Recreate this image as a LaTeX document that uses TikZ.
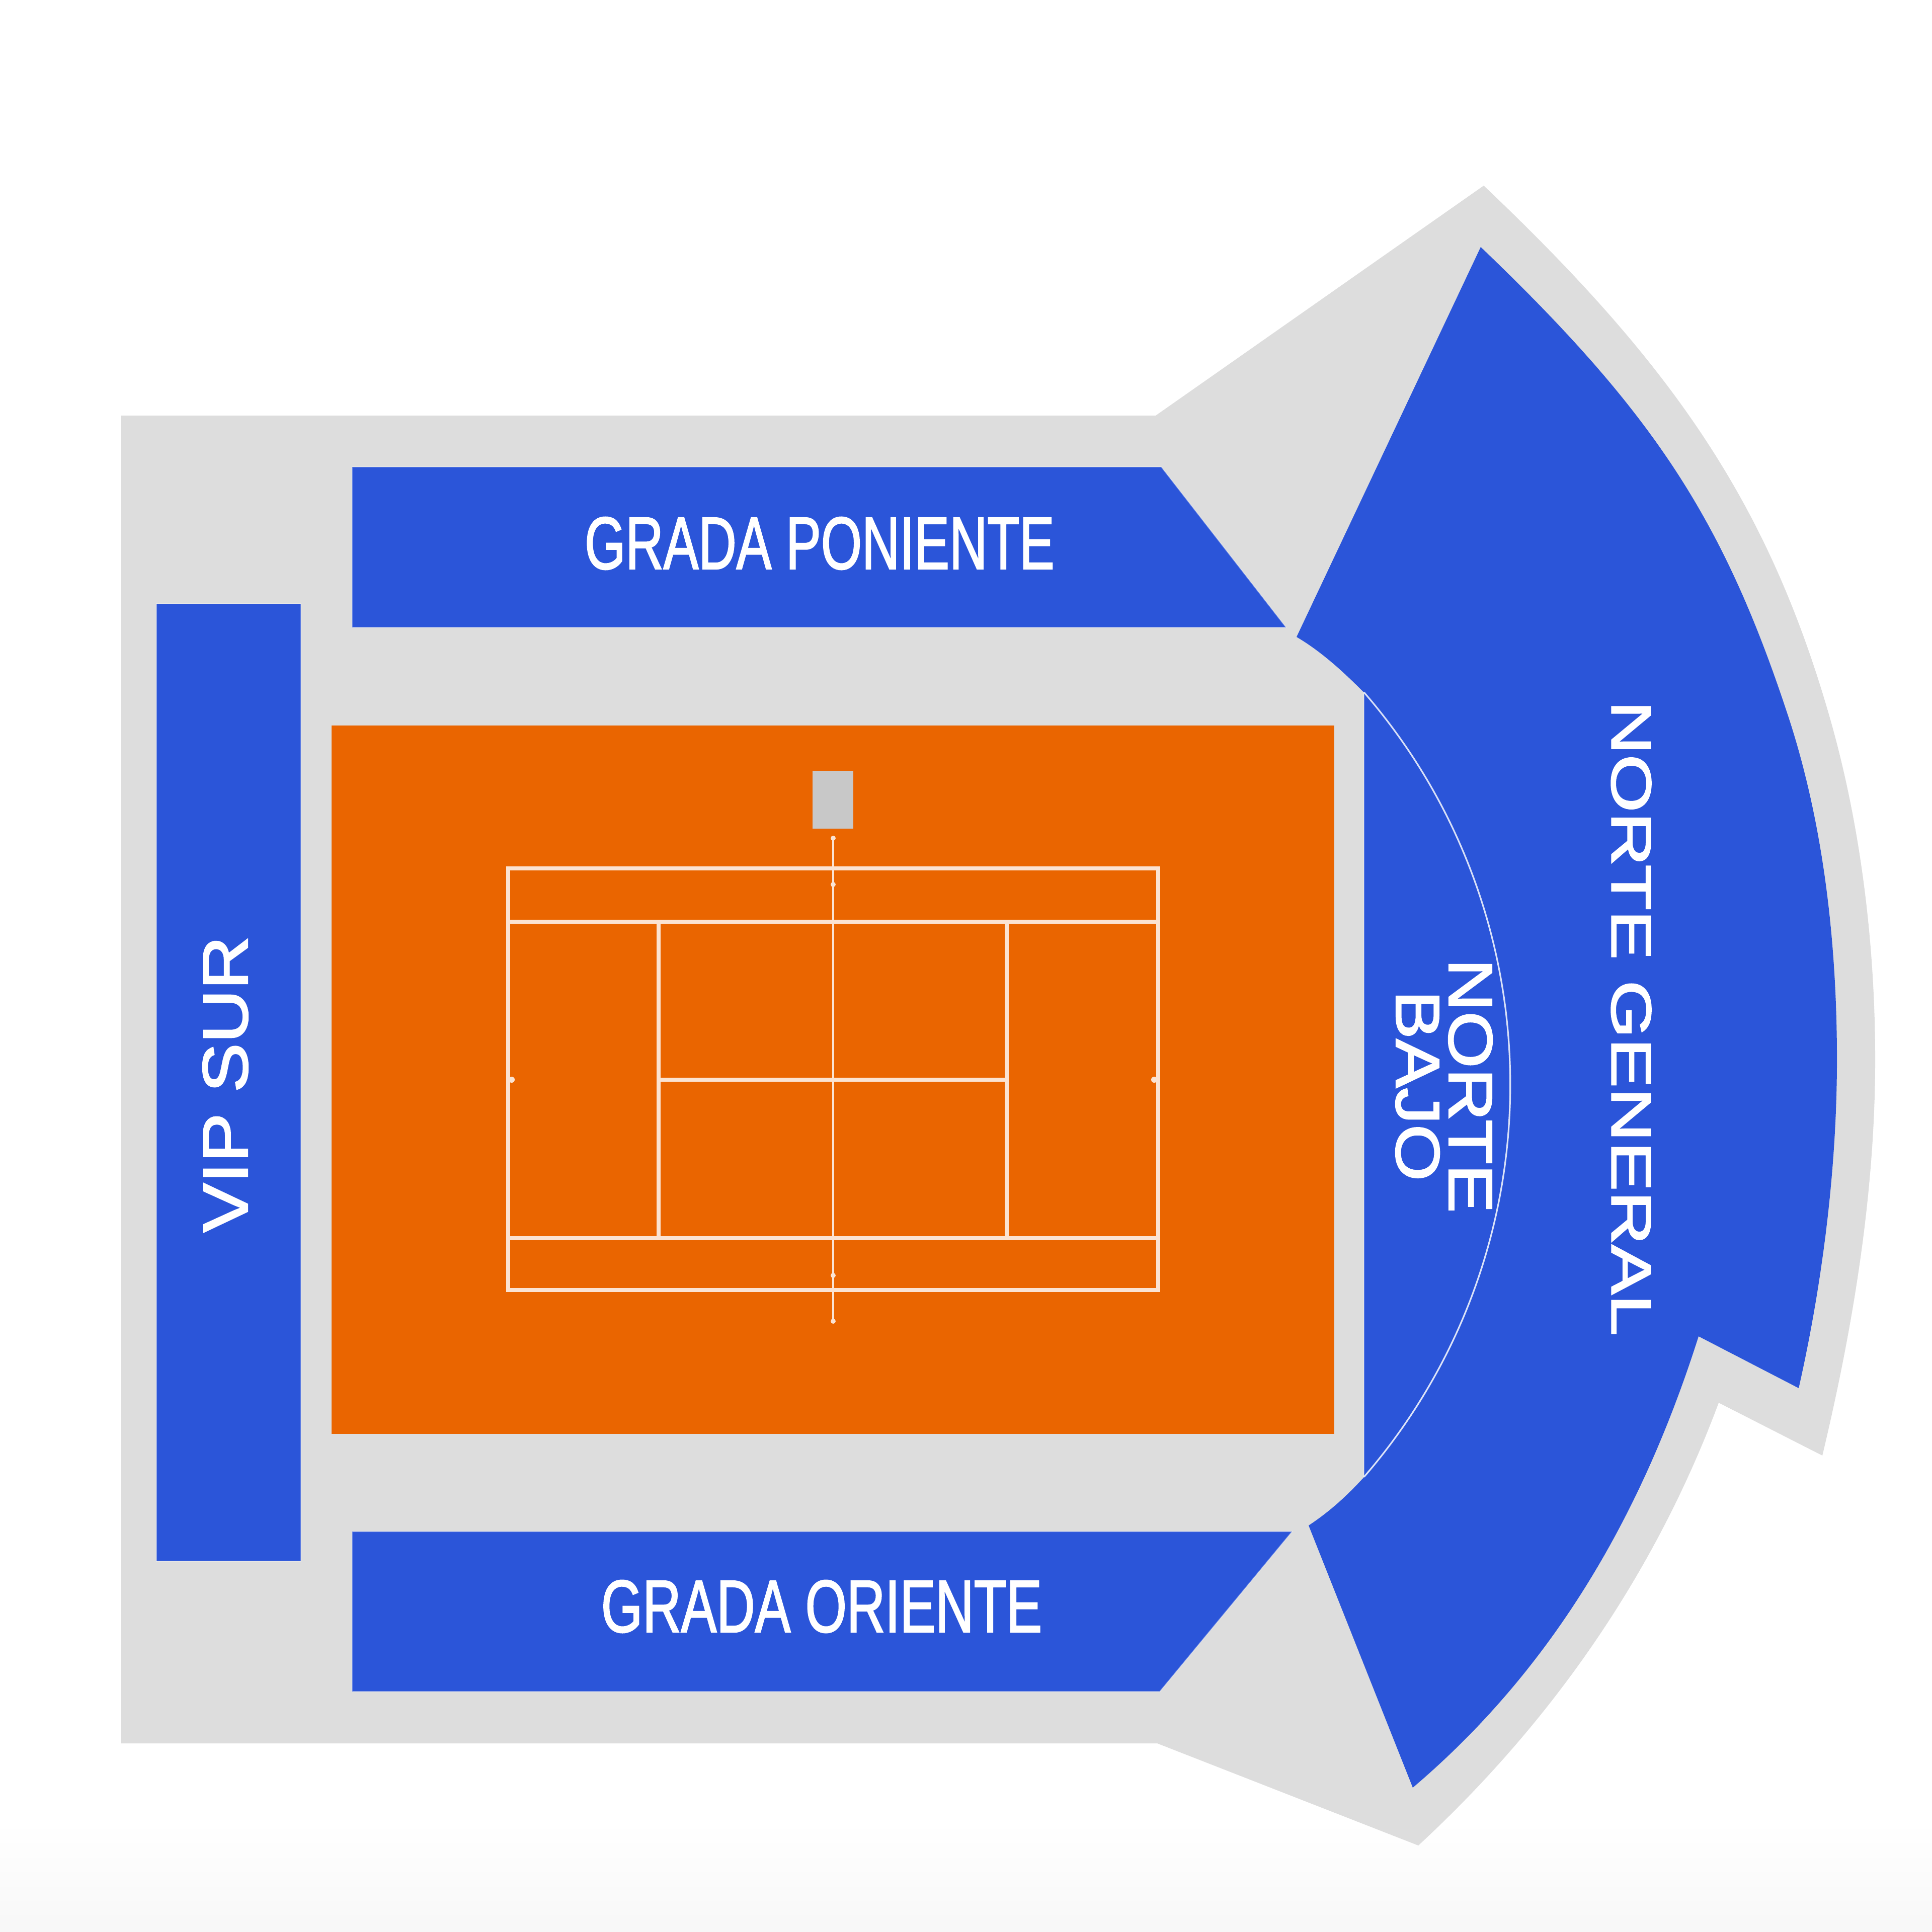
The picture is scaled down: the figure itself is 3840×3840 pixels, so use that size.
\documentclass[tikz,border=0pt]{standalone}
\usepackage{graphicx}
\usepackage{fontspec}
\setmainfont[FakeBold=2]{Liberation Sans}
\definecolor{standgray}{HTML}{DDDDDD}
\definecolor{zoneblue}{HTML}{2B55D9}
\definecolor{clay}{HTML}{EA6500}
\definecolor{courtline}{HTML}{FBE3D2}
\definecolor{umpire}{HTML}{C8C8C8}
\tikzset{
  zone/.style={fill=zoneblue,draw=white,draw opacity=.3,line width=.5pt},
  zonetext/.style={text=white,inner sep=0pt,align=center},
  courtstroke/.style={draw=courtline,line width=1.8pt},
  centerstroke/.style={draw=courtline,line width=1.2pt},
  courtdot/.style={fill=courtline},
}
\begin{document}
\begin{tikzpicture}[x=0.25pt,y=-0.25pt,line join=miter]
\useasboundingbox (0,0) rectangle (3840,3840);
\fill[white] (0,0) rectangle (3840,3840);
\shade[top color=white,bottom color=black!3] (0,3620) rectangle (3840,3840);
% grey stand outline
\fill[standgray] (240,826) -- (2297,826) -- (2949,369)
  .. controls (3321,722) and (3512,995) .. (3635,1420)
  .. controls (3699,1641) and (3727,1880) .. (3727,2106)
  .. controls (3727,2380) and (3680,2650) .. (3622,2893)
  -- (3416,2788)
  .. controls (3296,3110) and (3100,3408) .. (2819,3668)
  -- (2300,3465) -- (240,3465) -- cycle;
% clay
\fill[clay] (659,1442) rectangle (2652,2850);
\fill[umpire] (1615,1532) rectangle (1696,1647);
% court
\draw[courtstroke] (1010,1726) rectangle (2302,2564);
\draw[courtstroke] (1010,1832) -- (2302,1832);
\draw[courtstroke] (1010,2461) -- (2302,2461);
\draw[courtstroke] (1309,1832) -- (1309,2461);
\draw[courtstroke] (2001,1832) -- (2001,2461);
\draw[courtstroke] (1309,2146) -- (2001,2146);
\draw[centerstroke] (1656,1666) -- (1656,2626);
\fill[courtdot] (1656,1666) circle (5) (1656,2626) circle (5)
  (1656,1758) circle (5) (1656,2535) circle (5)
  (1017,2146) circle (6) (2294,2146) circle (6);
% blue zones
\path[zone] (311,1200) rectangle (598,3103);
\path[zone] (700,928) -- (2308,928) -- (2556,1247) -- (700,1247) -- cycle;
\path[zone] (700,3044) -- (2568,3044) -- (2305,3362) -- (700,3362) -- cycle;
\path[zone] (2711,1376) arc[start angle=-40.9,end angle=40.9,radius=1191] -- cycle;
\fill[zoneblue] (2943,491)
  .. controls (3287,820) and (3425,1032) .. (3553,1420)
  .. controls (3625,1638) and (3651,1877) .. (3651,2106)
  .. controls (3651,2330) and (3620,2560) .. (3575,2759)
  -- (3376,2656)
  .. controls (3270,2990) and (3100,3305) .. (2808,3553)
  -- (2601,3032)
  .. controls (2645,3003) and (2680,2970) .. (2711,2936)
  arc[start angle=40.9,end angle=-40.9,radius=1191]
  .. controls (2670,1335) and (2625,1294) .. (2577,1266) -- cycle;
\draw[white,opacity=.8,line width=.8pt] (2711,1376) arc[start angle=-40.9,end angle=40.9,radius=1191];
% labels
\node[zonetext,font=\fontsize{36.75}{40}\selectfont] (poniente) at (1629,1080) {\scalebox{.71}[1]{GRADA PONIENTE}};
\node[zonetext,font=\fontsize{36.75}{40}\selectfont] (oriente) at (1633,3193) {\scalebox{.72}[1]{GRADA ORIENTE}};
\node[zonetext,rotate=90,font=\fontsize{31.75}{36}\selectfont] (vip) at (448,2155) {\scalebox{1.16}[1]{VIP SUR}};
\node[zonetext,rotate=-90,font=\fontsize{28}{32}\selectfont] (general) at (3242,2024) {\scalebox{1.32}[1]{NORTE GENERAL}};
\node[zonetext,rotate=-90,font=\fontsize{30.75}{26.25}\selectfont] (bajo) at (2870,2158) {\scalebox{1.18}[1]{NORTE}\\\scalebox{1.18}[1]{BAJO}};
\end{tikzpicture}
\end{document}
